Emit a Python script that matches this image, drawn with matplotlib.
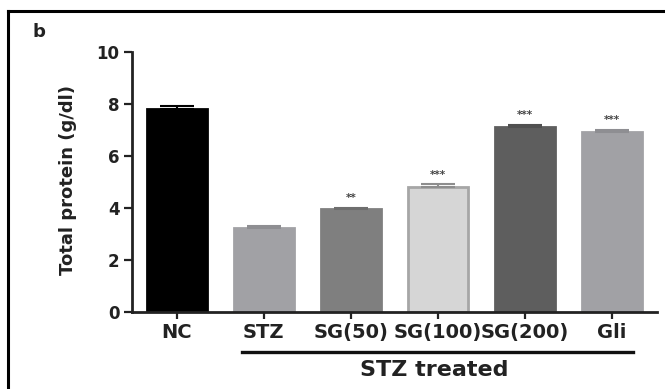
import matplotlib.pyplot as plt
from matplotlib.lines import Line2D
import matplotlib.transforms as mtransforms

# Total protein per group (g/dl), mean and SEM
groups = ["NC", "STZ", "SG(50)", "SG(100)", "SG(200)", "Gli"]
protein = [7.83, 3.22, 3.95, 4.82, 7.12, 6.93]
sem = [0.08, 0.07, 0.07, 0.09, 0.07, 0.07]
stars = ["", "", "**", "***", "***", "***"]

fill = ["#000000", "#a1a1a5", "#7f7f7f", "#d6d6d6", "#5e5e5e", "#a1a1a5"]
edge = ["#000000", "#a1a1a5", "#7f7f7f", "#a6a6a6", "#5e5e5e", "#a1a1a5"]
capcol = ["#000000", "#8e8e92", "#6e6e6e", "#8e8e8e", "#505050", "#8e8e92"]

plt.rcParams['font.family'] = 'DejaVu Sans'
plt.rcParams['font.weight'] = 'bold'

fig = plt.figure(figsize=(6.65, 3.89), dpi=100)
ax = fig.add_axes([0.1985, 0.198, 0.7895, 0.668])

x = list(range(len(groups)))
ax.bar(x, protein, width=0.69, color=fill, edgecolor=edge, linewidth=2, zorder=2)
for xi, v, e, c in zip(x, protein, sem, capcol):
    ax.errorbar(xi, v, yerr=[[0], [e]], fmt='none', ecolor=c,
                elinewidth=1.5, capsize=12, capthick=1.5, zorder=3)

# significance marks over the treated groups
for xi, v, e, s in zip(x, protein, sem, stars):
    if s:
        ax.text(xi, v + e + 0.38, s, ha='center', va='center', fontsize=7.5,
                color='#444444')

ax.set_xlim(-0.514, 5.52)
ax.set_ylim(0, 10)
ax.set_yticks([0, 2, 4, 6, 8, 10])
ax.set_xticks(x)
ax.set_xticklabels(groups, fontsize=14, fontweight='bold', color='#222222')
ax.tick_params(axis='y', labelsize=12, width=1.6, length=6, pad=3, colors='#222222')
ax.tick_params(axis='x', width=1.6, length=5, pad=3, colors='#222222')
for lbl in ax.get_yticklabels():
    lbl.set_fontweight('bold')

for side in ['top', 'right']:
    ax.spines[side].set_visible(False)
for side in ['left', 'bottom']:
    ax.spines[side].set_linewidth(2)
    ax.spines[side].set_color('#222222')

ax.set_ylabel("Total protein (g/dl)", fontsize=13, fontweight='bold', color='#222222')
ax.yaxis.set_label_coords(-0.105, 0.508)

# bracket for the STZ treated groups
trans = mtransforms.blended_transform_factory(ax.transData, ax.transAxes)
ax.add_line(Line2D([0.75, 5.245], [-0.154, -0.154], transform=trans, color='#111111',
                   linewidth=2.4, clip_on=False))
ax.text(2.96, -0.223, "STZ treated", transform=trans, ha='center', va='center',
        fontsize=16, fontweight='bold', color='#222222')

# panel letter and frame
fig.text(0.059, 0.918, "b", fontsize=13, fontweight='bold', ha='center', va='center',
         color='#222222')
fig.add_artist(Line2D([0.012, 1.0], [0.9717, 0.9717], transform=fig.transFigure,
                      color='black', linewidth=2.2))
fig.add_artist(Line2D([0.012, 0.012], [0.0, 0.9717], transform=fig.transFigure,
                      color='black', linewidth=2.2))

fig.savefig("out.png", dpi=100)
